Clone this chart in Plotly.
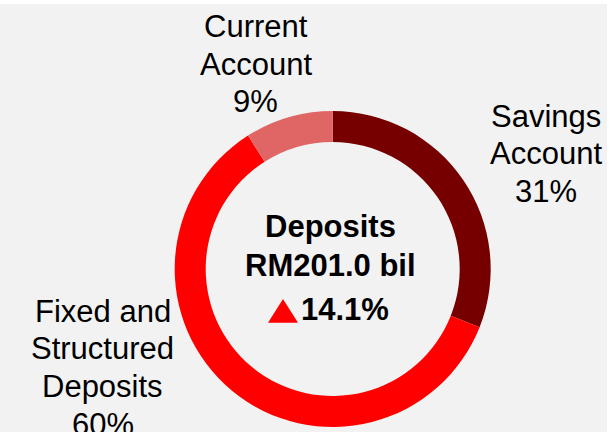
import plotly.graph_objects as go

labels = ["Savings Account", "Fixed and Structured Deposits", "Current Account"]
values = [31, 60, 9]
colors = ["#760000", "#ff0000", "#e06666"]
savings_lines = ["Savings", "Account", "31%"]
fixed_lines = ["Fixed and", "Structured", "Deposits", "60%"]
current_lines = ["Current", "Account", "9%"]
center_title = "Deposits"
center_value = "RM201.0 bil"
center_growth = "14.1%"

W, H = 610, 432
cx, cy, R = 332.7, 269.0, 158.0

fig = go.Figure(go.Pie(
    labels=labels, values=values, sort=False, direction="clockwise", rotation=0,
    hole=127/158, marker=dict(colors=colors, line=dict(width=0)),
    textinfo="none", hoverinfo="label+percent", showlegend=False,
    domain=dict(x=[(cx - R) / W, (cx + R) / W], y=[(H - cy - R) / H, (H - cy + R) / H]),
))

FAM = "Liberation Sans, Arial, sans-serif"
font = dict(family=FAM, size=31, color="#000000")


def px(x, y):
    return x / W, 1 - y / H


anns = []


def add_block(lines, x, y0, step=37.5):
    for i, t in enumerate(lines):
        ax, ay = px(x, y0 + i * step)
        anns.append(dict(x=ax, y=ay, xref="paper", yref="paper", text=t, showarrow=False,
                         xanchor="center", yanchor="middle", font=font))


add_block(current_lines, 255.6, 26.5)
add_block(savings_lines, 546, 116)
add_block(fixed_lines, 102.5, 311, step=37.7)

for text, (x, y) in zip(["<b>%s</b>" % center_title, "<b>%s</b>" % center_value],
                        [(330.5, 226.7), (330.5, 265)]):
    ax, ay = px(x, y)
    anns.append(dict(x=ax, y=ay, xref="paper", yref="paper", text=text, showarrow=False,
                     xanchor="center", yanchor="middle", font=font))
ax, ay = px(300.5, 309.5)
anns.append(dict(x=ax, y=ay, xref="paper", yref="paper", text="<b>%s</b>" % center_growth,
                 showarrow=False, xanchor="left", yanchor="middle", font=font, xshift=-2))

tri = [(268, 322.7), (298, 322.7), (283, 299)]
tri_path = "M " + " L ".join("%f,%f" % px(x, y) for x, y in tri) + " Z"

fig.update_layout(
    width=W, height=H, margin=dict(l=0, r=0, t=0, b=0),
    paper_bgcolor="#ffffff",
    annotations=anns,
    shapes=[
        dict(type="rect", xref="paper", yref="paper", x0=0, x1=607 / W, y0=0, y1=1 - 4 / H,
             fillcolor="#f2f2f2", line=dict(width=0), layer="below"),
        dict(type="path", xref="paper", yref="paper", path=tri_path,
             fillcolor="#ff0000", line=dict(width=0)),
    ],
)

fig.write_html("out.html", config={"displayModeBar": False},
               post_script="document.body.style.margin='0';")
